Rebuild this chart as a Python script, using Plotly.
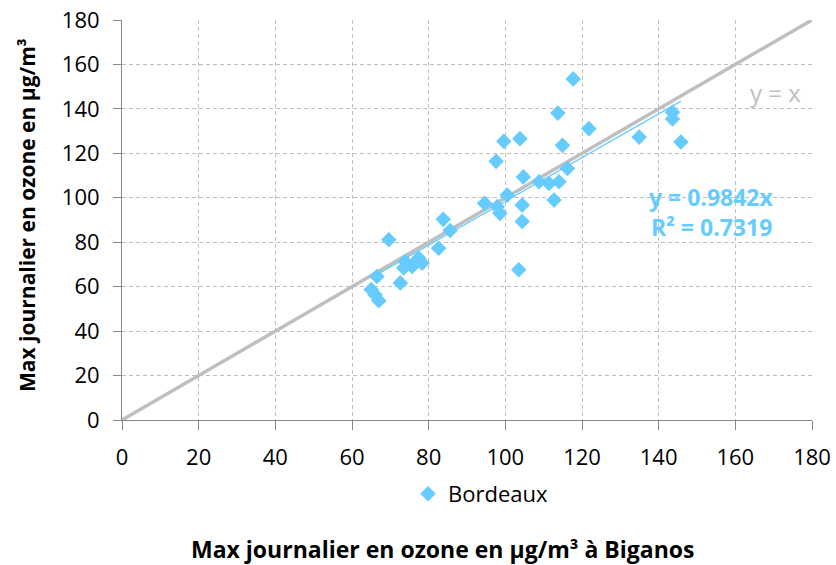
import plotly.graph_objects as go

# Data
biganos = [65, 66, 67, 66.5, 69.6, 72.6, 73.5, 73.9, 75.7, 77.4, 78.3, 76,
           82.6, 83.8, 85.6, 94.6, 97.6, 97.9, 98.6, 100.5, 99.6, 103.8, 104.4,
           104.4, 104.7, 103.5, 108.8, 111.4, 112.7, 114, 116.2, 113.7, 114.9,
           117.7, 121.8, 134.9, 143.6, 143.6, 145.8]
bordeaux = [58.7, 56.4, 53.7, 64.6, 81.1, 61.7, 68.4, 71.3, 69.1, 72.9, 70.6, 70,
            77.3, 90.3, 85.3, 97.5, 116.4, 96, 93, 101.2, 125.4, 126.6, 96.7,
            89.3, 109.4, 67.6, 107.2, 106.4, 99, 107.2, 113.2, 138.1, 123.6,
            153.5, 131.1, 127.3, 138.5, 135.5, 125.1]
slope = 0.9842
r2 = 0.7319
identity = [0, 180]
ticks = [0, 20, 40, 60, 80, 100, 120, 140, 160, 180]

BLUE = "#66CCFF"
GRAY = "#BFBFBF"
AXIS = "#868686"
FONT = "'Open Sans', sans-serif"

L, R, T, B = 122, 24, 20, 145
W, H = 836, 565
pw = W - L - R
ph = H - T - B

fig = go.Figure()
fig.add_trace(go.Scatter(x=identity, y=identity, mode="lines",
                         line=dict(color=GRAY, width=3.5), showlegend=False,
                         hoverinfo="skip"))
xmin, xmax = min(biganos), max(biganos)
fig.add_trace(go.Scatter(x=[xmin, xmax], y=[slope * xmin, slope * xmax],
                         mode="lines", line=dict(color=BLUE, width=1.3),
                         showlegend=False, hoverinfo="skip"))
fig.add_trace(go.Scatter(x=biganos, y=bordeaux, mode="markers", name="Bordeaux",
                         marker=dict(symbol="diamond", size=12, color=BLUE)))

axis_common = dict(range=[0, 180], tickvals=ticks, showgrid=True,
                   gridcolor=GRAY, griddash="4px,3px", gridwidth=1,
                   showline=True, linecolor=AXIS, linewidth=1,
                   ticks="outside", tickcolor=AXIS, automargin=False,
                   tickfont=dict(family=FONT, size=22, color="black"),
                   zeroline=False, fixedrange=True)

fig.update_xaxes(**axis_common, ticklen=9, ticklabelstandoff=9)
fig.update_yaxes(**axis_common, ticklen=8, ticklabelstandoff=9)

fig.update_layout(
    width=W, height=H,
    margin=dict(l=L, r=R, t=T, b=B, autoexpand=False),
    plot_bgcolor="white", paper_bgcolor="white",
    showlegend=True,
    legend=dict(orientation="h", xref="container", yref="container",
                x=408 / W, xanchor="left", y=(H - 494) / H, yanchor="middle",
                font=dict(family=FONT, size=22, color="black"),
                itemsizing="constant", itemwidth=30, bgcolor="rgba(0,0,0,0)"),
    annotations=[
        dict(text="y = x", x=170.4, y=147.6, xref="x", yref="y", showarrow=False,
             font=dict(family=FONT, size=24, color=GRAY)),
        dict(text="<b>y = 0.9842x</b>", x=153.7, y=100.4, xref="x", yref="y",
             showarrow=False, font=dict(family=FONT, size=23, color=BLUE)),
        dict(text="<b>R² = 0.7319</b>", x=153.7, y=86.9, xref="x", yref="y",
             showarrow=False, font=dict(family=FONT, size=23, color=BLUE)),
        dict(text="<b>Max journalier en ozone en µg/m³ à Biganos</b>",
             x=(442 - L) / pw, y=-(549 - (H - B)) / ph, xref="paper", yref="paper",
             xanchor="center", yanchor="middle", showarrow=False,
             font=dict(family=FONT, size=23, color="black")),
        dict(text="<b>Max journalier en ozone en µg/m³</b>",
             x=-(L - 27) / pw, y=((H - B) - 215) / ph, xref="paper", yref="paper",
             xanchor="center", yanchor="middle", showarrow=False, textangle=-90,
             font=dict(family=FONT, size=21, color="black")),
    ],
)

fig.write_html("out.html")
